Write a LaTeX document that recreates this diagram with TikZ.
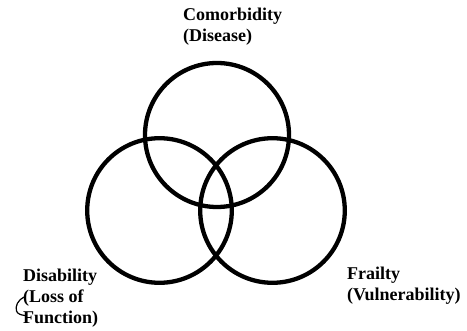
\documentclass[tikz,border=0pt]{standalone}
\usepackage{fontspec}
\setmainfont{Liberation Serif}
\begin{document}
\begin{tikzpicture}[x=1pt,y=-1pt,
  ring/.style={draw=black,line width=4.3pt},
  lbl/.style={anchor=base west,inner sep=0pt,font=\fontsize{18}{21}\selectfont\bfseries}]
\useasboundingbox (0,0) rectangle (467,331);
% the three overlapping circles
\draw[ring] (217,135) circle[radius=72];
\draw[ring] (159.5,210.5) circle[radius=72.3];
\draw[ring] (272.5,210.5) circle[radius=72.3];
% labels
\node[lbl] (como) at (183,21) {\begin{tabular}[t]{@{}l@{}}Comorbidity\\(Disease)\end{tabular}};
\node[lbl] (disa) at (23,282) {\begin{tabular}[t]{@{}l@{}}Disability\\(Loss of\\Function)\end{tabular}};
\node[lbl] (frai) at (347,280) {\begin{tabular}[t]{@{}l@{}}Frailty\\(Vulnerability)\end{tabular}};
% small pen stroke beside the disability label
\draw[line width=1.2pt,line cap=round] (24,297) .. controls (18,300) and (15,306) .. (16.5,311) .. controls (17.5,314) and (21,315) .. (25,315.5);
\end{tikzpicture}
\end{document}
